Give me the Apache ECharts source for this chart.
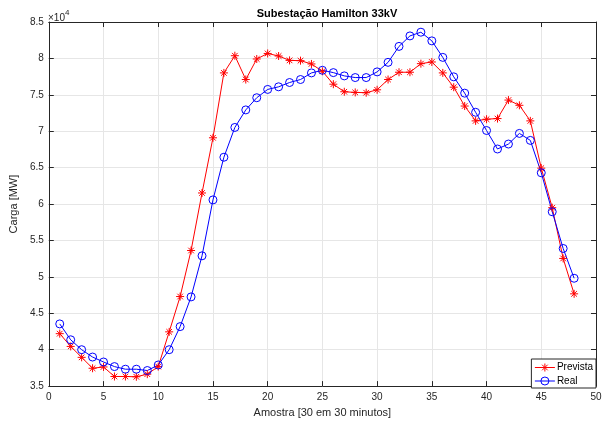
<!DOCTYPE html>
<html>
<head>
<meta charset="utf-8">
<script src="https://cdn.jsdelivr.net/npm/echarts@6/dist/echarts.min.js"></script>
<style>
  html, body { margin: 0; padding: 0; background: #fff; }
  #chart { width: 611px; height: 423px; }
</style>
</head>
<body>
<div id="chart"></div>
<script>
// Half-hourly samples (1..48) of the Hamilton 33 kV substation load
const samples = Array.from({ length: 48 }, (_, i) => i + 1);

const prevista = [
  42200, 40450, 38950, 37450, 37630, 36320, 36320, 36280, 36640, 37680,
  42450, 47300, 53620, 61520, 69100, 78010, 80370, 77100, 79920, 80680,
  80330, 79730, 79690, 79240, 78230, 76460, 75420, 75330, 75290, 75690,
  77100, 78100, 78100, 79280, 79510, 78010, 76050, 73460, 71420, 71650,
  71740, 74280, 73560, 71420, 64930, 59500, 52530, 47670
];

const real = [
  43540, 41360, 40000, 38990, 38310, 37680, 37320, 37320, 37140, 37900,
  40000, 43170, 47250, 52890, 60570, 66430, 70520, 72930, 74600, 75740,
  76100, 76690, 77100, 78010, 78370, 78050, 77600, 77370, 77370, 78150,
  79460, 81650, 83090, 83600, 82410, 80140, 77470, 75230, 72600, 70100,
  67560, 68240, 69700, 68740, 64290, 58940, 53900, 49810
];

const xTicks = { min: 0, max: 50, step: 5 };
const yTicks = { min: 35000, max: 85000, step: 5000, scale: 1e4 };

const asterisk = 'path://M0,-10L0,10M-10,0L10,0M-7,-7L7,7M-7,7L7,-7';
const axisColor = '#262626';
const gridColor = '#e6e6e6';
const font = 'Liberation Sans, Arial, Helvetica, sans-serif';

const chart = echarts.init(document.getElementById('chart'), null, { renderer: 'canvas' });

function pairs(ys) { return samples.map((x, i) => [x, ys[i]]); }

const baseX = {
  type: 'value', min: xTicks.min, max: xTicks.max, interval: xTicks.step,
  axisLine: { show: true, onZero: false, lineStyle: { color: axisColor, width: 1 } },
  axisTick: { show: true, inside: true, length: 5, lineStyle: { color: axisColor } },
  splitLine: { show: false }
};
const baseY = {
  type: 'value', min: yTicks.min, max: yTicks.max, interval: yTicks.step,
  axisLine: { show: true, onZero: false, lineStyle: { color: axisColor, width: 1 } },
  axisTick: { show: true, inside: true, length: 5, lineStyle: { color: axisColor } },
  splitLine: { show: false }
};

chart.setOption({
  animation: false,
  backgroundColor: '#ffffff',
  title: {
    text: 'Subestação Hamilton 33kV',
    left: 322, top: 3, textAlign: 'center',
    textStyle: { fontFamily: font, fontSize: 11, fontWeight: 'bold', color: '#000' }
  },
  grid: { left: 48, right: 15, top: 22, bottom: 35, containLabel: false },
  xAxis: [
    Object.assign({}, baseX, {
      position: 'bottom',
      name: 'Amostra [30 em 30 minutos]', nameLocation: 'middle', nameGap: 19,
      nameTextStyle: { fontFamily: font, fontSize: 11, color: axisColor },
      axisLabel: { show: true, fontFamily: font, fontSize: 10, color: axisColor, margin: 6 },
      splitLine: { show: true, lineStyle: { color: gridColor, width: 1 } }
    }),
    Object.assign({}, baseX, { position: 'top', axisLabel: { show: false } })
  ],
  yAxis: [
    Object.assign({}, baseY, {
      position: 'left',
      name: 'Carga [MW]', nameLocation: 'middle', nameGap: 25, nameRotate: 90,
      nameTextStyle: { fontFamily: font, fontSize: 11, color: axisColor },
      axisLabel: {
        show: true, fontFamily: font, fontSize: 10, color: axisColor, margin: 5,
        formatter: v => String(+(v / yTicks.scale).toFixed(1))
      },
      splitLine: { show: true, lineStyle: { color: gridColor, width: 1 } }
    }),
    Object.assign({}, baseY, { position: 'right', axisLabel: { show: false } })
  ],
  legend: {
    orient: 'vertical',
    right: 15, bottom: 35,
    backgroundColor: '#fff',
    borderColor: axisColor, borderWidth: 1, borderRadius: 0,
    padding: [2, 3, 2, 3],
    itemGap: 2,
    itemWidth: 20, itemHeight: 10,
    lineStyle: { width: 1 },
    itemStyle: { borderWidth: 1 },
    textStyle: { fontFamily: font, fontSize: 10, color: '#000', padding: [0, 0, 0, -3] },
    data: ['Prevista', 'Real']
  },
  graphic: [{
    type: 'text', left: 48, top: 9,
    style: {
      text: '{a|×10}{b|4}',
      rich: {
        a: { fontFamily: font, fontSize: 10, fill: axisColor, verticalAlign: 'bottom' },
        b: { fontFamily: font, fontSize: 8, fill: axisColor, verticalAlign: 'top', padding: [0, 0, 6, 0] }
      }
    }
  }],
  series: [
    {
      name: 'Prevista', type: 'line', data: pairs(prevista),
      symbol: asterisk, symbolSize: 8, showAllSymbol: true,
      lineStyle: { color: '#ff0000', width: 1 },
      itemStyle: { color: 'none', borderColor: '#ff0000', borderWidth: 1 },
      emphasis: { disabled: true }
    },
    {
      name: 'Real', type: 'line', data: pairs(real),
      symbol: 'circle', symbolSize: 8, showAllSymbol: true,
      lineStyle: { color: '#0000ff', width: 1 },
      itemStyle: { color: 'rgba(0,0,0,0)', borderColor: '#0000ff', borderWidth: 1 },
      emphasis: { disabled: true }
    }
  ]
});
</script>
</body>
</html>
